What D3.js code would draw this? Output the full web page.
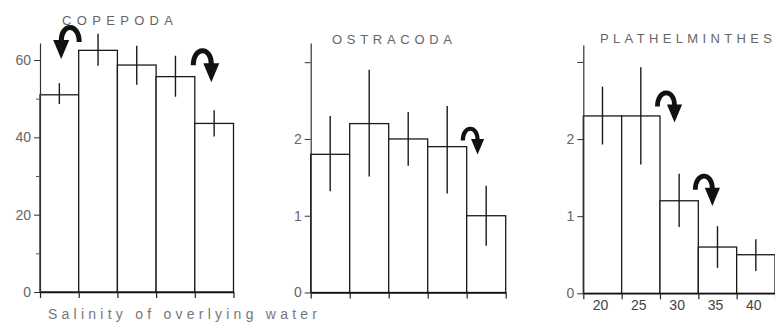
<!DOCTYPE html>
<html>
<head>
<meta charset="utf-8">
<script src="https://d3js.org/d3.v7.min.js"></script>
<style>
  body { margin: 0; background: #fff; }
  svg text { font-family: "Liberation Sans", Arial, sans-serif; }
</style>
</head>
<body>
<div id="chart"></div>
<script>
// Salinity classes (shared x categories)
var salinity = ["20", "25", "30", "35", "40"];

// Copepoda means and error bar ends
var copepoda = [51, 62.5, 58.7, 55.7, 43.6];
var copepodaLow = [48.6, 58.5, 53.6, 50.5, 40.2];
var copepodaHigh = [54, 66.8, 63.7, 61.1, 47];

// Ostracoda
var ostracoda = [1.8, 2.2, 2.0, 1.9, 1.0];
var ostracodaLow = [1.32, 1.51, 1.65, 1.29, 0.61];
var ostracodaHigh = [2.3, 2.9, 2.35, 2.43, 1.39];

// Plathelminthes
var plath = [2.3, 2.3, 1.2, 0.6, 0.5];
var plathLow = [1.93, 1.67, 0.86, 0.33, 0.29];
var plathHigh = [2.68, 2.93, 1.55, 0.87, 0.70];

var svgWidth = 775;
var svgHeight = 323;

var svg = d3.select("#chart")
  .append("svg")
  .attr("width", svgWidth)
  .attr("height", svgHeight);

var panels = [
  {
    title: "COPEPODA", titleX: 62, titleY: 25, titleW: 111,
    values: copepoda, low: copepodaLow, high: copepodaHigh,
    xRange: [40, 233.5], yDomain: [0, 64.4], yRange: [292, 43],
    major: [0, 20, 40, 60], minor: [10, 30, 50], unlabeled: [],
    // arrows: [edge index, px offset from edge, top value, direction, size]
    arrows: [[1, -8.5, 68.8, -1, 1], [4, 7.5, 62.8, 1, 1]],
    xLabels: false
  },
  {
    title: "OSTRACODA", titleX: 332, titleY: 44, titleW: 120,
    values: ostracoda, low: ostracodaLow, high: ostracodaHigh,
    xRange: [310.7, 505.7], yDomain: [0, 3.25], yRange: [292.5, 43],
    major: [0, 1, 2, 3], minor: [], unlabeled: [3],
    arrows: [[4, 3.5, 2.15, 1, 0.82]],
    xLabels: false
  },
  {
    title: "PLATHELMINTHES", titleX: 600, titleY: 43, titleW: 172,
    values: plath, low: plathLow, high: plathHigh,
    xRange: [583.3, 775], yDomain: [0, 3.22], yRange: [293.3, 45],
    major: [0, 1, 2, 3], minor: [], unlabeled: [3],
    arrows: [[2, 6, 2.62, 1, 0.95], [3, 5.5, 1.54, 1, 0.95]],
    xLabels: true
  }
];

function drawArrow(g, cx, top, dir, size) {
  var a = g.append("g")
    .attr("transform", `translate(${cx}, ${top}) scale(${dir * size}, ${size})`);
  a.append("path")
    .attr("d", "M -9,16 C -9,-3 9,-3 9,15")
    .attr("fill", "none")
    .attr("stroke", "#111")
    .attr("stroke-width", 5);
  a.append("path")
    .attr("d", "M 1,14 L 17,14 L 9,33 Z")
    .attr("fill", "#111");
}

panels.forEach(function(p) {
  var g = svg.append("g");

  var x = d3.scaleBand().domain(salinity).range(p.xRange).padding(0);
  var xEdge = d3.scaleLinear().domain([0, salinity.length]).range(p.xRange);
  var y = d3.scaleLinear().domain(p.yDomain).range(p.yRange);

  // bars
  g.selectAll("rect.bar")
    .data(p.values)
    .enter()
    .append("rect")
    .attr("class", "bar")
    .attr("x", (d, i) => x(salinity[i]))
    .attr("y", d => y(d))
    .attr("width", x.bandwidth())
    .attr("height", d => y(0) - y(d))
    .attr("fill", "#fff")
    .attr("stroke", "#1a1a1a")
    .attr("stroke-width", 1.3);

  // error bars
  g.selectAll("line.err")
    .data(p.values)
    .enter()
    .append("line")
    .attr("class", "err")
    .attr("x1", (d, i) => x(salinity[i]) + x.bandwidth() / 2)
    .attr("x2", (d, i) => x(salinity[i]) + x.bandwidth() / 2)
    .attr("y1", (d, i) => y(p.low[i]))
    .attr("y2", (d, i) => y(p.high[i]))
    .attr("stroke", "#1a1a1a")
    .attr("stroke-width", 1.4);

  // y axis
  var yAxis = d3.axisLeft(y)
    .tickValues(p.major)
    .tickSize(6)
    .tickSizeOuter(0)
    .tickPadding(3)
    .tickFormat(d => p.unlabeled.indexOf(d) >= 0 ? "" : d);
  var yg = g.append("g")
    .attr("transform", `translate(${p.xRange[0]}, 0)`)
    .call(yAxis);
  yg.select(".domain").attr("stroke", "#333").attr("stroke-width", 1.2);
  yg.selectAll(".tick line").attr("stroke", "#333");
  yg.selectAll(".tick text").attr("fill", "#666").attr("font-size", 14);

  if (p.minor.length) {
    g.append("g")
      .attr("transform", `translate(${p.xRange[0]}, 0)`)
      .call(d3.axisLeft(y).tickValues(p.minor).tickSize(4).tickFormat(""))
      .call(s => s.select(".domain").remove())
      .selectAll(".tick line").attr("stroke", "#555");
  }

  // x axis with ticks at bar edges
  var xg = g.append("g")
    .attr("transform", `translate(0, ${y(0)})`)
    .call(d3.axisBottom(xEdge).ticks(salinity.length).tickSize(6).tickSizeOuter(0).tickFormat(""));
  xg.select(".domain").attr("stroke", "#111").attr("stroke-width", 1.6);
  xg.selectAll(".tick line").attr("stroke", "#222").attr("stroke-width", 1.2);

  if (p.xLabels) {
    var xl = g.append("g")
      .attr("transform", `translate(0, ${y(0)})`)
      .call(d3.axisBottom(x).tickSize(0).tickPadding(7));
    xl.select(".domain").remove();
    xl.selectAll(".tick text").attr("fill", "#444").attr("font-size", 14).attr("dx", -2);
  }

  // title
  g.append("text")
    .attr("x", p.titleX)
    .attr("y", p.titleY)
    .attr("textLength", p.titleW)
    .attr("lengthAdjust", "spacing")
    .attr("font-size", 13)
    .attr("fill", "#666")
    .text(p.title);

  // curved arrows
  p.arrows.forEach(function(a) {
    drawArrow(g, xEdge(a[0]) + a[1], y(a[2]), a[3], a[4]);
  });
});

// shared x axis title
svg.append("text")
  .attr("x", 48)
  .attr("y", 319)
  .attr("textLength", 269)
  .attr("lengthAdjust", "spacing")
  .attr("font-size", 14)
  .attr("fill", "#777")
  .text("Salinity of overlying water");
</script>
</body>
</html>
